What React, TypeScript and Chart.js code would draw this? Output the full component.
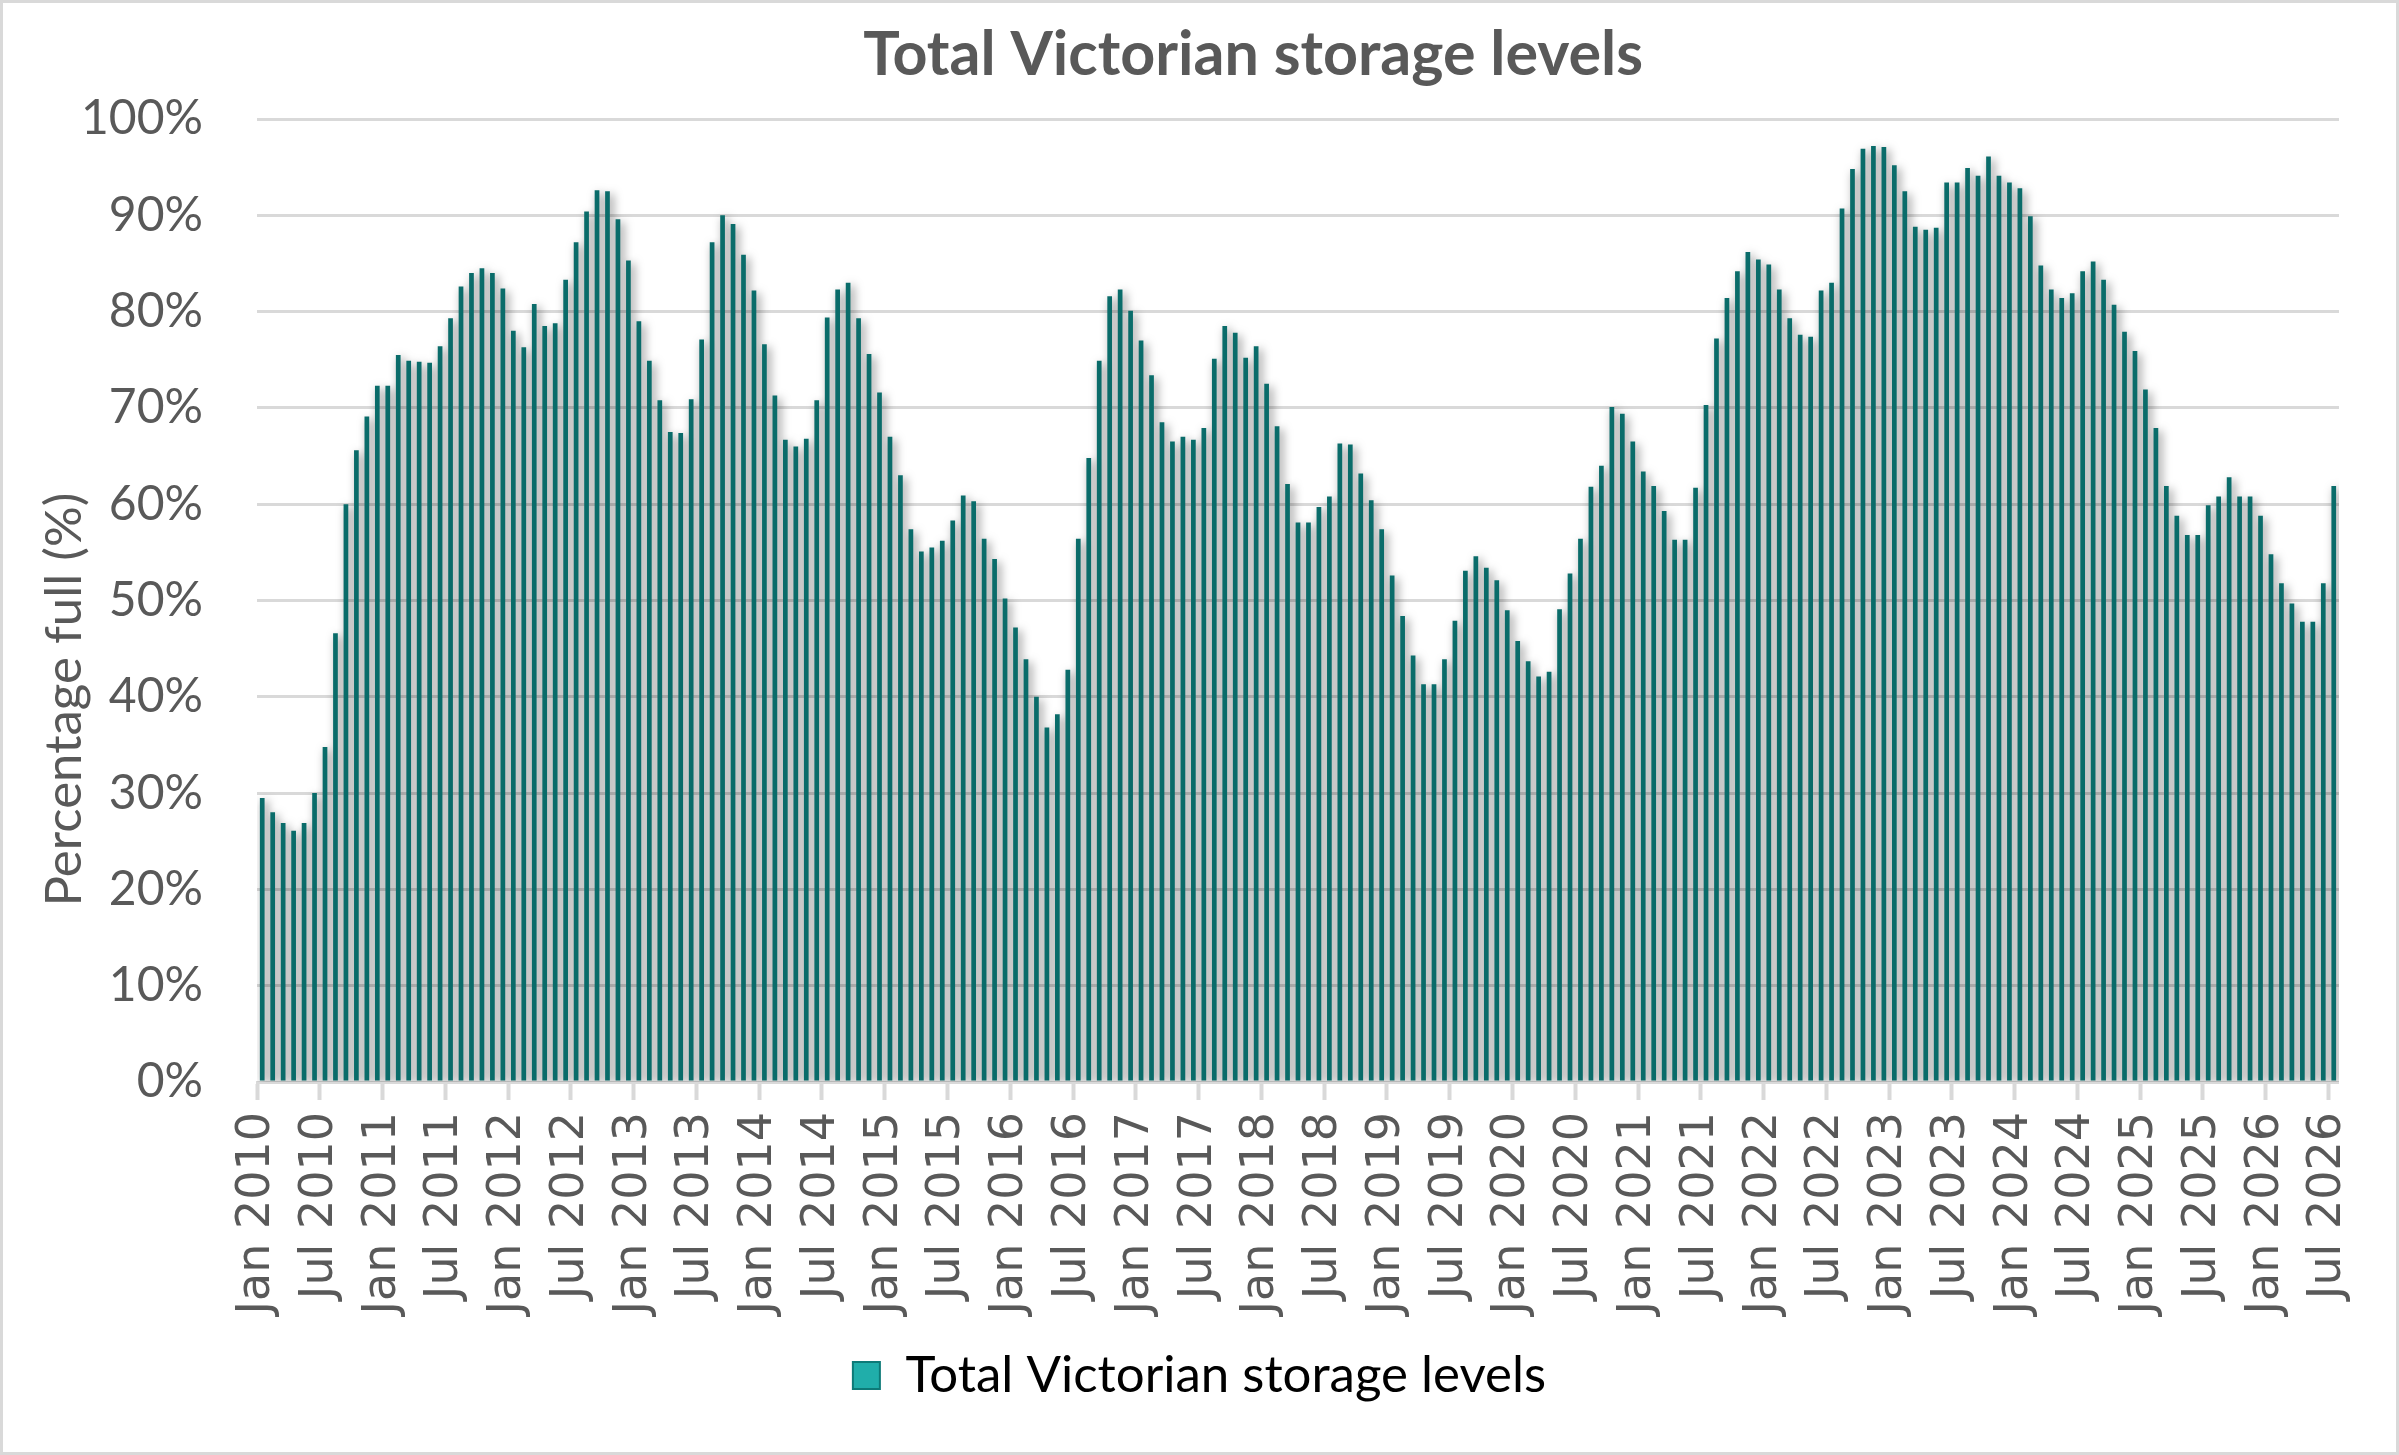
import { useEffect, useRef } from 'react'
import { Chart, registerables } from 'chart.js'

Chart.register(...registerables)

const TITLE = 'Total Victorian storage levels'
const SERIES_LABEL = 'Total Victorian storage levels'
const Y_TITLE = 'Percentage full (%)'

// monthly storage, % full, Jan 2010 .. Jul 2026
const Y2010 = [29.5, 28.0, 26.9, 26.1, 26.9, 30.0, 34.8, 46.6, 60.0, 65.6, 69.1, 72.3]
const Y2011 = [72.3, 75.5, 74.9, 74.8, 74.7, 76.4, 79.3, 82.6, 84.0, 84.5, 84.0, 82.4]
const Y2012 = [78.0, 76.3, 80.8, 78.5, 78.8, 83.3, 87.2, 90.4, 92.6, 92.5, 89.6, 85.3]
const Y2013 = [79.0, 74.9, 70.8, 67.5, 67.4, 70.9, 77.1, 87.2, 90.0, 89.1, 85.9, 82.2]
const Y2014 = [76.6, 71.3, 66.7, 66.0, 66.8, 70.8, 79.4, 82.3, 83.0, 79.3, 75.6, 71.6]
const Y2015 = [67.0, 63.0, 57.4, 55.1, 55.5, 56.2, 58.3, 60.9, 60.3, 56.4, 54.3, 50.2]
const Y2016 = [47.2, 43.9, 40.0, 36.8, 38.2, 42.8, 56.4, 64.8, 74.9, 81.6, 82.3, 80.1]
const Y2017 = [77.0, 73.4, 68.5, 66.5, 67.0, 66.7, 67.9, 75.1, 78.5, 77.8, 75.2, 76.4]
const Y2018 = [72.5, 68.1, 62.1, 58.1, 58.1, 59.7, 60.8, 66.3, 66.2, 63.2, 60.4, 57.4]
const Y2019 = [52.6, 48.4, 44.3, 41.3, 41.3, 43.9, 47.9, 53.1, 54.6, 53.4, 52.1, 49.0]
const Y2020 = [45.8, 43.7, 42.1, 42.6, 49.1, 52.8, 56.4, 61.8, 64.0, 70.1, 69.4, 66.5]
const Y2021 = [63.4, 61.9, 59.3, 56.3, 56.3, 61.7, 70.3, 77.2, 81.4, 84.2, 86.2, 85.4]
const Y2022 = [84.9, 82.3, 79.3, 77.6, 77.4, 82.2, 83.0, 90.7, 94.8, 96.9, 97.2, 97.1]
const Y2023 = [95.2, 92.5, 88.8, 88.5, 88.7, 93.4, 93.4, 94.9, 94.1, 96.1, 94.1, 93.4]
const Y2024 = [92.8, 89.9, 84.8, 82.3, 81.4, 81.9, 84.2, 85.2, 83.3, 80.7, 77.9, 75.9]
const Y2025 = [71.9, 67.9, 61.9, 58.8, 56.8, 56.8, 59.9, 60.8, 62.8, 60.8, 60.8, 58.8]
const Y2026 = [54.8, 51.8, 49.7, 47.8, 47.8, 51.8, 61.9]

const VALUES = [
  ...Y2010, ...Y2011, ...Y2012, ...Y2013, ...Y2014, ...Y2015, ...Y2016, ...Y2017, ...Y2018,
  ...Y2019, ...Y2020, ...Y2021, ...Y2022, ...Y2023, ...Y2024, ...Y2025, ...Y2026,
]

const YEARS = [2010, 2011, 2012, 2013, 2014, 2015, 2016, 2017, 2018, 2019, 2020, 2021, 2022, 2023, 2024, 2025, 2026]
const HALF_YEAR_MONTHS = ['Jan', 'Jul']
const TICK_LABELS = YEARS.flatMap(y => HALF_YEAR_MONTHS.map(m => `${m} ${y}`))
const Y_TICKS_STEP = 10

const C = {
  text: '#595959',
  grid: '#d9d9d9',
  bar: '#0a6c6a',
  legendFill: '#20aeaa',
  legendStroke: '#0d7a77',
}

// Excel-like soft outer shadow behind the bars
const barShadow = {
  id: 'barShadow',
  beforeDatasetsDraw(chart: Chart) {
    const ctx = chart.ctx
    ctx.save()
    ctx.shadowColor = 'rgba(0,0,0,0.5)'
    ctx.shadowBlur = 10
    ctx.shadowOffsetX = 3
    ctx.shadowOffsetY = 3
  },
  afterDatasetsDraw(chart: Chart) {
    chart.ctx.restore()
  },
}

// title and axis title are placed by hand in the original, not centred
const freeTexts = {
  id: 'freeTexts',
  afterDraw(chart: Chart) {
    const { ctx, chartArea } = chart
    ctx.save()
    ctx.fillStyle = C.text
    ctx.textAlign = 'center'
    ctx.textBaseline = 'middle'

    ctx.font = 'bold 61px Lato'
    ctx.fillText(TITLE, chart.width * 0.5224, 52)

    ctx.translate(62, (chartArea.top + chartArea.bottom) / 2 + 99)
    ctx.rotate(-Math.PI / 2)
    ctx.font = '51px Lato'
    ctx.fillText(Y_TITLE, 0, 0)
    ctx.restore()
  },
}

function StorageChart() {
  const canvasRef = useRef<HTMLCanvasElement>(null)
  const chartRef = useRef<Chart | null>(null)

  useEffect(() => {
    if (!canvasRef.current) return
    if (chartRef.current) { chartRef.current.destroy(); chartRef.current = null }

    chartRef.current = new Chart(canvasRef.current, {
      type: 'bar',
      data: {
        datasets: [{
          label: SERIES_LABEL,
          data: VALUES.map((v, i) => ({ x: i + 0.5, y: v })),
          backgroundColor: C.bar,
          borderWidth: 0,
          barPercentage: 0.45,
          categoryPercentage: 1,
        }],
      },
      plugins: [barShadow, freeTexts],
      options: {
        responsive: true,
        maintainAspectRatio: false,
        animation: false,
        layout: { padding: { left: 0, right: 0, top: 116, bottom: 41 } },
        plugins: {
          tooltip: { enabled: false },
          title: { display: false },
          legend: {
            position: 'bottom',
            labels: {
              color: C.text,
              font: { family: 'Lato', size: 51 },
              boxWidth: 27,
              boxHeight: 27,
              padding: 10,
              generateLabels: () => [{
                text: SERIES_LABEL,
                fillStyle: C.legendFill,
                strokeStyle: C.legendStroke,
                lineWidth: 2,
                hidden: false,
                datasetIndex: 0,
              }],
            },
          },
        },
        scales: {
          x: {
            type: 'linear',
            offset: false,
            min: 0,
            max: VALUES.length,
            afterBuildTicks: (axis: any) => {
              axis.ticks = TICK_LABELS.map((_, i) => ({ value: i * 6 }))
            },
            afterFit: (axis: any) => { axis.height = 258 },
            grid: {
              display: true,
              drawOnChartArea: false,
              drawTicks: true,
              tickLength: 18,
              tickWidth: 4,
              tickColor: C.grid,
              offset: false,
            },
            border: { display: true, color: C.grid, width: 3 },
            ticks: {
              autoSkip: false,
              minRotation: 90,
              maxRotation: 90,
              padding: 12,
              color: C.text,
              font: { family: "'DejaVu Sans'", size: 46 },
              callback: (v: any) => TICK_LABELS[Math.round(Number(v) / 6)] ?? '',
            },
          },
          y: {
            min: 0,
            max: 100,
            afterFit: (axis: any) => { axis.width = 254 },
            grid: { color: C.grid, lineWidth: 3, drawTicks: false },
            border: { display: false },
            ticks: {
              stepSize: Y_TICKS_STEP,
              padding: 54,
              color: C.text,
              font: { family: 'Lato', size: 48 },
              callback: (v: any) => `${v}%`,
            },
          },
          // empty right margin, so the legend stays centred on the whole canvas
          yRight: {
            position: 'right',
            display: true,
            afterFit: (axis: any) => { axis.width = 55 },
            grid: { display: false, drawTicks: false },
            border: { display: false },
            ticks: { display: false },
          },
        },
      },
    })

    return () => { chartRef.current?.destroy(); chartRef.current = null }
  }, [])

  return <canvas ref={canvasRef} style={{ width: '100%', height: '100%' }} />
}

export default function App() {
  return (
    <div
      style={{
        position: 'fixed', left: 0, top: 0, width: 2399, height: 1455,
        boxSizing: 'border-box', border: '3px solid #d9d9d9', background: '#fff',
      }}
    >
      <StorageChart />
    </div>
  )
}
